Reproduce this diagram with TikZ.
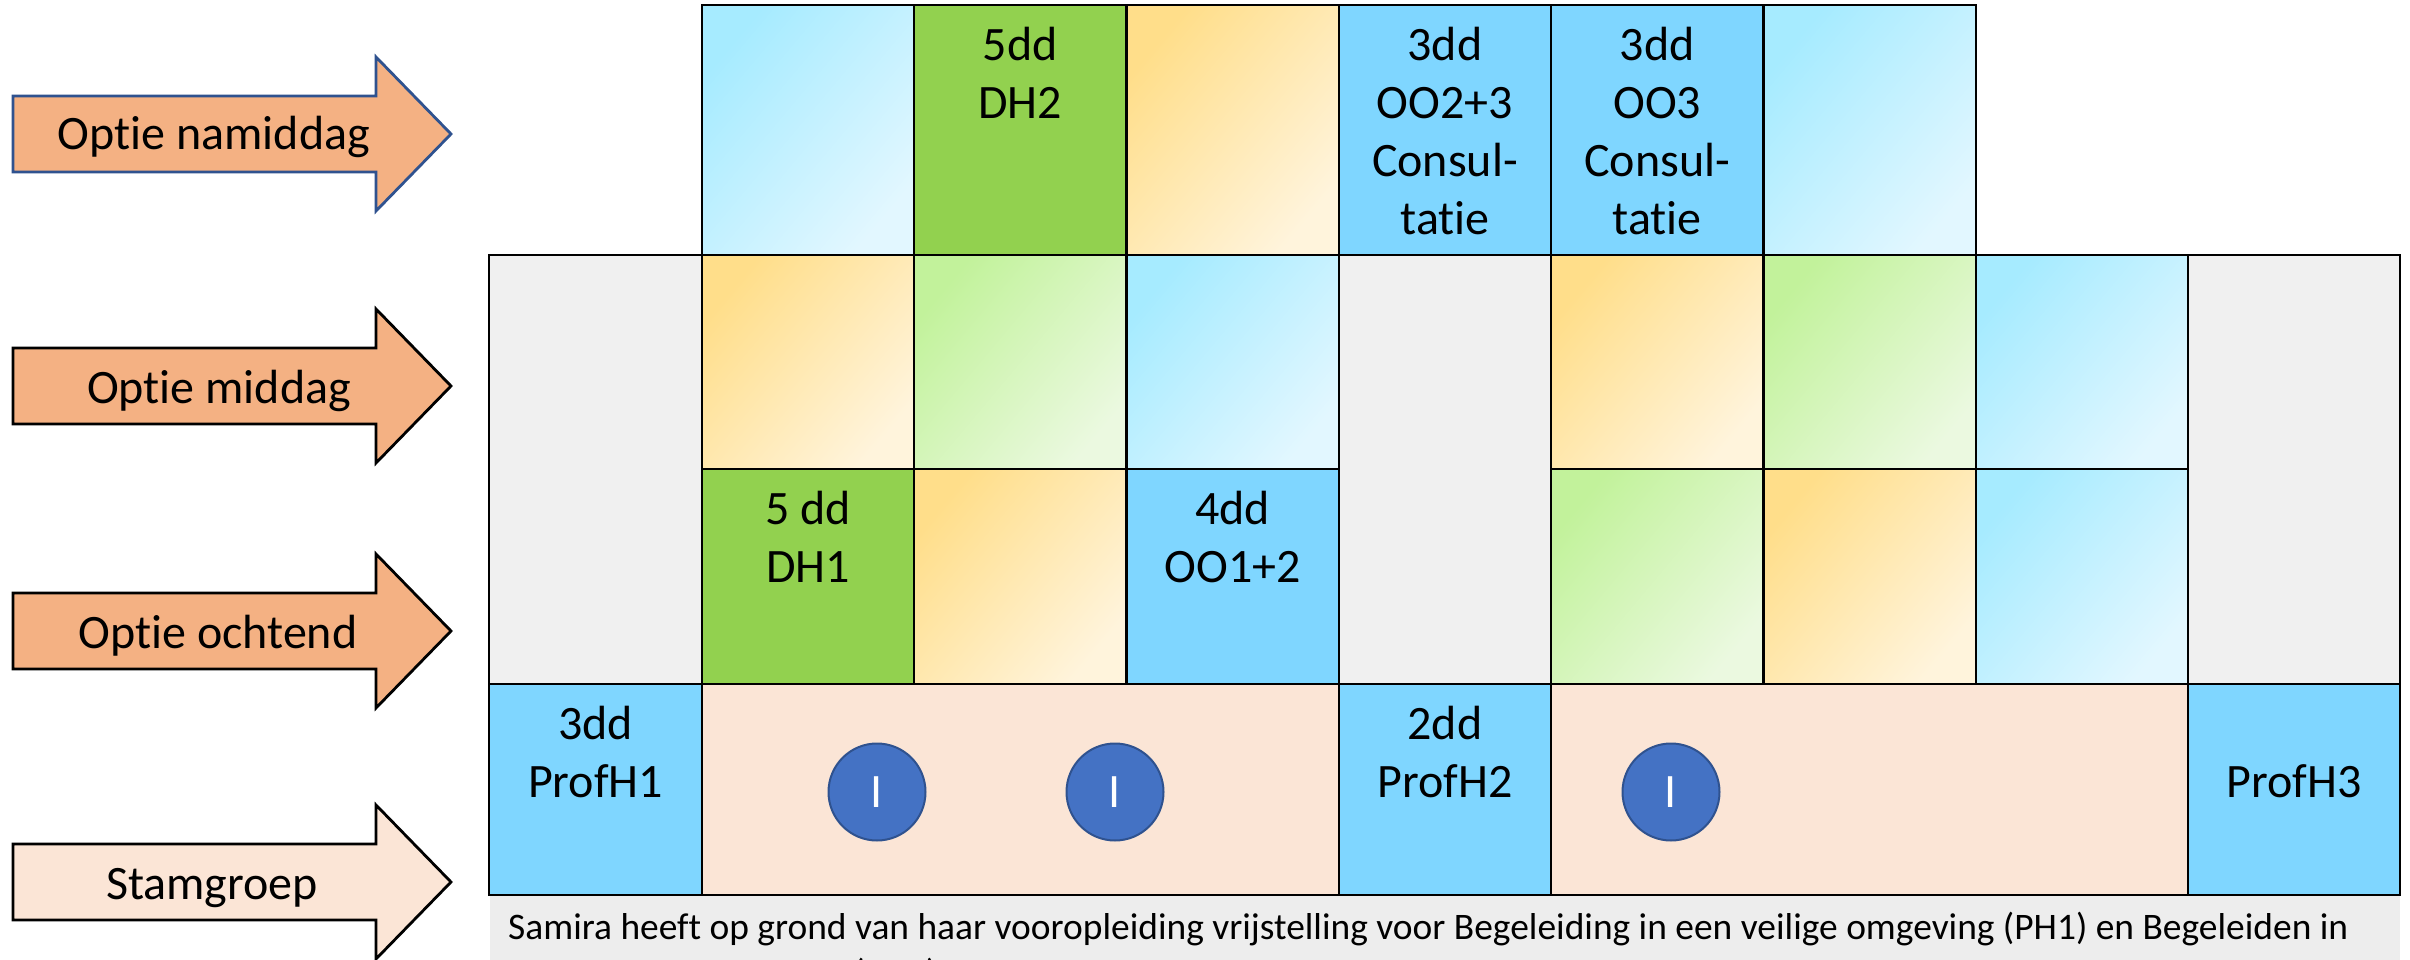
\documentclass[tikz,border=0pt]{standalone}
\usepackage{fontspec}
\setmainfont[Ligatures=NoCommon]{Carlito}
\definecolor{blueA}{HTML}{A6EBFF}
\definecolor{blueB}{HTML}{E2F7FF}
\definecolor{orA}{HTML}{FFDE8A}
\definecolor{orB}{HTML}{FFF4DC}
\definecolor{grA}{HTML}{C2F29B}
\definecolor{grB}{HTML}{EBF9E0}
\definecolor{solidblue}{HTML}{7FD6FF}
\definecolor{solidgreen}{HTML}{92D14F}
\definecolor{cellgrey}{HTML}{F0F0F0}
\definecolor{peach}{HTML}{FBE5D6}
\definecolor{arroworange}{HTML}{F4B183}
\definecolor{footgrey}{HTML}{EDEDED}
\definecolor{dotblue}{HTML}{4472C4}
\definecolor{dotedge}{HTML}{2F528F}
\tikzset{
  x=1pt,y=-1pt,
  cellbase/.style={draw=black,line width=2.8pt,inner sep=0pt,outer sep=0pt,anchor=north west},
  cblue/.style={cellbase,shading=axis,left color=blueA,right color=blueB,shading angle=50},
  corange/.style={cellbase,shading=axis,left color=orA,right color=orB,shading angle=50},
  cgreen/.style={cellbase,shading=axis,left color=grA,right color=grB,shading angle=50},
  csblue/.style={cellbase,fill=solidblue},
  csgreen/.style={cellbase,fill=solidgreen},
  cgrey/.style={cellbase,fill=cellgrey},
  cpeach/.style={cellbase,fill=peach},
  celltext/.style={anchor=north,inner sep=0pt,align=center,font=\fontsize{48}{58}\selectfont,text=black},
  arrowlabel/.style={anchor=base,inner sep=0pt,font=\fontsize{48}{58}\selectfont,text=black},
  arrowshape/.style={line width=2.8pt,line join=miter,draw=black},
  dot/.style={circle,fill=dotblue,draw=dotedge,line width=2pt,minimum size=97pt,inner sep=0pt,text=white,font=\fontsize{48}{58}\selectfont},
  foottext/.style={anchor=base west,inner sep=0pt,font=\fontsize{37.45}{46}\selectfont,text=black},
}
% name, x1, y1, x2, y2, style, text
\newcommand{\gridcell}[7]{%
  \pgfmathsetlengthmacro{\cw}{#4-#2}\pgfmathsetlengthmacro{\ch}{#5-#3}%
  \node[#6,minimum width=\cw,minimum height=\ch] (#1) at (#2,#3) {};%
  \node[celltext] (#1t) at (#1.north) {\rule{0pt}{55pt}#7};%
}
% name, y of tip, fill, edge
\newcommand{\rowarrow}[4]{%
  \draw[arrowshape,fill=#3,draw=#4] (13,#2-38) -- (376,#2-38) -- (376,#2-77) -- (451,#2) -- (376,#2+77) -- (376,#2+38) -- (13,#2+38) -- cycle;%
  \coordinate (#1) at (451,#2);%
}
\begin{document}
\begin{tikzpicture}
\useasboundingbox (0,0) rectangle (2410,960);
\fill[white] (0,0) rectangle (2410,960);

% footer
\fill[footgrey] (490,895) rectangle (2400,960);
\begin{scope}
\clip (0,0) rectangle (2410,960);
\node[foottext] (foot1) at (508,939) {Samira heeft op grond van haar vooropleiding vrijstelling voor Begeleiding in een veilige omgeving (PH1) en Begeleiden in};
\node[foottext] (foot2) at (853,985) {(PH2). Ze};
\end{scope}

% arrows
\rowarrow{a1}{134}{arroworange}{dotedge}
\rowarrow{a2}{386}{arroworange}{black}
\rowarrow{a3}{631}{arroworange}{black}
\rowarrow{a4}{882}{peach}{black}
\node[arrowlabel] (l1) at (214,150) {Optie namiddag};
\node[arrowlabel] (l2) at (219,403.5) {Optie middag};
\node[arrowlabel] (l3) at (218,648.5) {Optie ochtend};
\node[arrowlabel] (l4) at (212,899.5) {Stamgroep};

% grey blocks
\gridcell{g1}{489}{255}{702}{684}{cgrey}{}
\gridcell{g2}{1339}{255}{1551}{684}{cgrey}{}
\gridcell{g3}{2188}{255}{2400}{684}{cgrey}{}

% top row
\gridcell{t1}{702}{5}{914}{255}{cblue}{}
\gridcell{t2}{914}{5}{1126.5}{255}{csgreen}{5dd\\DH2}
\gridcell{t3}{1126.5}{5}{1339}{255}{corange}{}
\gridcell{t4}{1339}{5}{1551}{255}{csblue}{3dd\\OO2+3\\Consul-\\tatie}
\gridcell{t5}{1551}{5}{1763.5}{255}{csblue}{3dd\\OO3\\Consul-\\tatie}
\gridcell{t6}{1763.5}{5}{1976}{255}{cblue}{}

% middle row
\gridcell{m1}{702}{255}{914}{469}{corange}{}
\gridcell{m2}{914}{255}{1126.5}{469}{cgreen}{}
\gridcell{m3}{1126.5}{255}{1339}{469}{cblue}{}
\gridcell{m4}{1551}{255}{1763.5}{469}{corange}{}
\gridcell{m5}{1763.5}{255}{1976}{469}{cgreen}{}
\gridcell{m6}{1976}{255}{2188}{469}{cblue}{}

% morning row
\gridcell{o1}{702}{469}{914}{684}{csgreen}{5 dd\\DH1}
\gridcell{o2}{914}{469}{1126.5}{684}{corange}{}
\gridcell{o3}{1126.5}{469}{1339}{684}{csblue}{4dd\\OO1+2}
\gridcell{o4}{1551}{469}{1763.5}{684}{cgreen}{}
\gridcell{o5}{1763.5}{469}{1976}{684}{corange}{}
\gridcell{o6}{1976}{469}{2188}{684}{cblue}{}

% bottom row
\gridcell{b1}{489}{684}{702}{895}{csblue}{3dd\\ProfH1}
\gridcell{b2}{702}{684}{1339}{895}{cpeach}{}
\gridcell{b3}{1339}{684}{1551}{895}{csblue}{2dd\\ProfH2}
\gridcell{b4}{1551}{684}{2188}{895}{cpeach}{}
\gridcell{b5}{2188}{684}{2400}{895}{csblue}{\\ProfH3}

% dots
\node[dot] (d1) at (877,792) {I};
\node[dot] (d2) at (1115,792) {I};
\node[dot] (d3) at (1671,792) {I};
\end{tikzpicture}
\end{document}
